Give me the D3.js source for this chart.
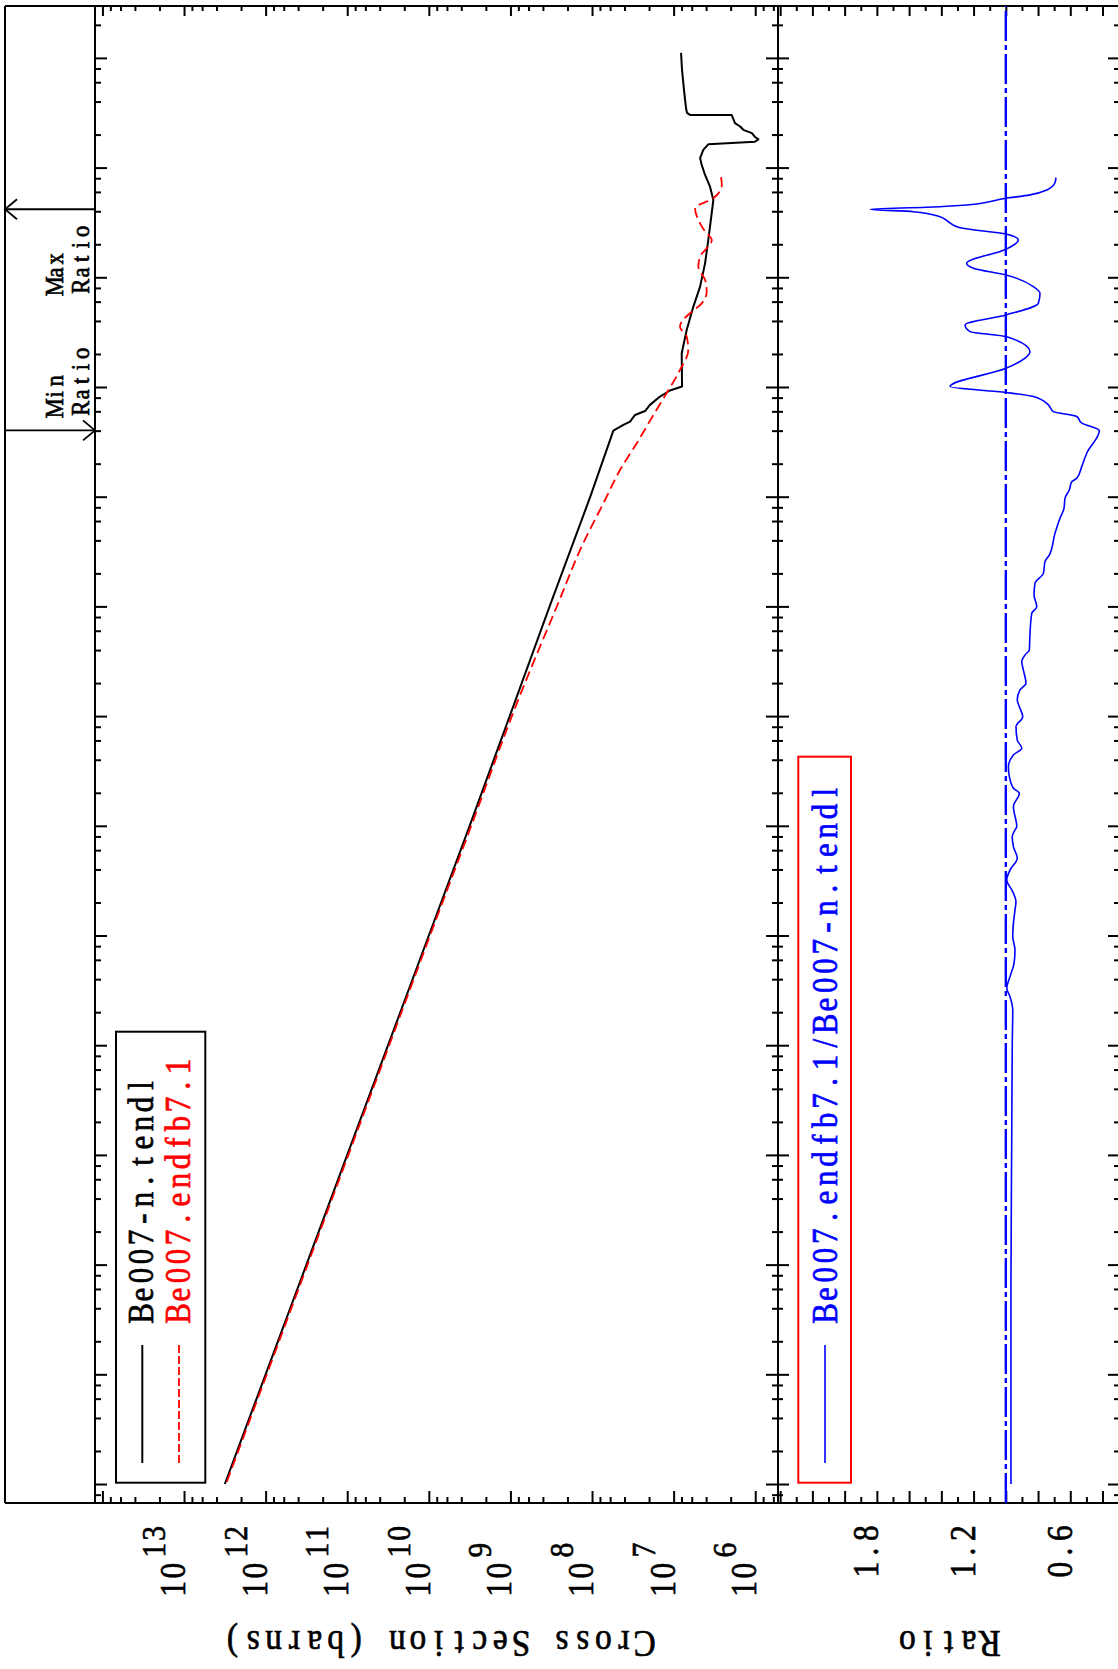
<!DOCTYPE html>
<html><head><meta charset="utf-8">
<script src="https://cdn.jsdelivr.net/npm/d3@7"></script>
<style>html,body{margin:0;padding:0;background:#fff;} svg{display:block;}</style>
</head><body>
<svg id="chart" width="1118" height="1669"></svg>
<script>
// ---------------- data (energy in eV, cross section in barns) ----------------
const tendlEnergy = [1.11e8, 7.76e7, 5.09e7, 3.49e7, 3.15e7, 3.02e7, 3.01e7, 2.54e7, 2.37e7, 2.21e7, 2.06e7, 1.91e7, 1.81e7, 1.72e7, 1.63e7, 1.45e7, 1.22e7, 1.06e7, 8.57e6, 6.70e6, 5.07e6, 3.21e6, 2.19e6, 1.34e6, 8.22e5, 5.41e5, 3.31e5, 2.03e5, 1.01e5, 9.29e4, 8.18e4, 6.87e4, 6.04e4, 5.56e4, 4.83e4, 4.51e4, 4.00e4, 1e4, 1e3, 100, 10, 1, 0.1, 0.01, 1e-3, 1e-4, 1e-5];
const tendlXS = [8.11e6, 7.89e6, 7.46e6, 7.05e6, 6.86e6, 6.30e6, 1.94e6, 1.77e6, 1.53e6, 1.40e6, 1.10e6, 1.01e6, 9.16e5, 1.01e6, 3.76e6, 4.33e6, 4.74e6, 4.53e6, 4.12e6, 3.58e6, 3.26e6, 3.52e6, 3.76e6, 4.12e6, 4.74e6, 5.73e6, 6.92e6, 7.96e6, 7.89e6, 1.11e7, 1.47e7, 1.95e7, 2.24e7, 2.97e7, 3.42e7, 4.13e7, 5.48e7, 1.05e8, 3.31e8, 1.02e9, 3.16e9, 1.0e10, 3.16e10, 1.0e11, 3.16e11, 1.0e12, 3.16e12];

const endfEnergy = [8.17e6, 6.93e6, 5.25e6, 4.26e6, 3.33e6, 2.61e6, 2.19e6, 1.54e6, 1.25e6, 9.44e5, 7.40e5, 5.79e5, 4.70e5, 3.94e5, 3.55e5, 2.88e5, 2.17e5, 1.43e5, 8.77e4, 5.56e4, 3.07e4, 1.75e4, 9.33e3, 3.27e3, 1.14e3, 140, 10, 1, 0.1, 0.01, 1e-3, 1e-4, 1e-5];
const endfXS = [2.62e6, 2.57e6, 3.26e6, 5.47e6, 4.98e6, 4.11e6, 3.41e6, 4.74e6, 4.98e6, 4.11e6, 3.93e6, 4.53e6, 6.30e6, 7.96e6, 8.36e6, 6.92e6, 6.61e6, 8.36e6, 1.22e7, 1.77e7, 2.83e7, 4.54e7, 6.93e7, 1.40e8, 2.51e8, 8.05e8, 3.02e9, 9.66e9, 3.06e10, 9.68e10, 3.06e11, 9.68e11, 3.06e12];

const ratioEnergy = [8.09e6, 7.28e6, 6.25e6, 5.64e6, 5.25e6, 4.56e6, 4.35e6, 4.17e6, 3.96e6, 3.56e6, 3.21e6, 2.83e6, 2.48e6, 2.19e6, 1.80e6, 1.34e6, 1.21e6, 1.05e6, 8.22e5, 7.14e5, 5.79e5, 4.54e5, 3.68e5, 3.20e5, 2.88e5, 2.10e5, 1.83e5, 1.48e5, 1.01e5, 8.91e4, 8.18e4, 6.87e4, 5.97e4, 5.38e4, 4.68e4, 4.02e4, 2.49e4, 1.88e4, 1.47e4, 1.37e4, 1.15e4, 9.66e3, 7.83e3, 6.35e3, 4.63e3, 2.94e3, 2.56e3, 2.00e3, 1.63e3, 1.27e3, 995, 865, 569, 401, 361, 313, 263, 199, 173, 140, 122, 98.9, 80.2, 60.5, 50.9, 44.3, 34.6, 28.1, 22.0, 19.8, 15.0, 9.84, 9.16, 7.96, 6.46, 5.06, 3.95, 3.21, 2.51, 2.04, 1.71, 1.29, 0.977, 0.738, 0.558, 0.422, 0.330, 0.277, 0.209, 0.104, 0.0169, 7.24e-4, 1e-5];
const ratioValue = [0.689, 0.695, 0.746, 0.850, 0.999, 1.243, 1.491, 1.842, 1.574, 1.408, 1.357, 1.284, 0.999, 0.922, 0.999, 1.243, 1.202, 0.999, 0.829, 0.788, 0.798, 0.999, 1.253, 1.222, 0.999, 0.850, 0.881, 0.999, 1.346, 0.999, 0.829, 0.736, 0.705, 0.560, 0.529, 0.420, 0.498, 0.529, 0.560, 0.591, 0.606, 0.633, 0.639, 0.664, 0.695, 0.730, 0.757, 0.767, 0.819, 0.825, 0.808, 0.839, 0.850, 0.854, 0.881, 0.901, 0.891, 0.875, 0.912, 0.929, 0.916, 0.895, 0.937, 0.929, 0.901, 0.953, 0.984, 0.978, 0.953, 0.916, 0.953, 0.932, 0.943, 0.960, 0.953, 0.929, 0.974, 0.994, 0.957, 0.937, 0.943, 0.953, 0.957, 0.943, 0.949, 0.974, 0.994, 0.974, 0.957, 0.960, 0.963, 0.968, 0.968];

const xsTickExponents = [13, 12, 11, 10, 9, 8, 7, 6];
const ratioTickLabels = [1.8, 1.2, 0.6];
const legendTopLabels = ["Be007-n.tendl", "Be007.endfb7.1"];
const legendRatioLabel = "Be007.endfb7.1/Be007-n.tendl";
const axisTitleXS = "Cross Section (barns)";
const axisTitleRatio = "Ratio";
const markerLabels = [["Max", "Ratio"], ["Min", "Ratio"]];

// ---------------- layout ----------------
const svg = d3.select("#chart");
const F = {left: 5, top: 6, bottom: 1503, xsLeft: 95, sep: 778, right: 1119};
const FONT = "'Liberation Serif', 'Times New Roman', 'DejaVu Serif', serif";
const K = 1.13; // vertical stretch of glyphs

const yE = d3.scaleLog().domain([Math.pow(10, -5.173), Math.pow(10, 8.473)]).range([F.bottom, F.top]);
const xS = d3.scaleLog().domain([Math.pow(10, 14.091), Math.pow(10, 5.721)]).range([F.xsLeft, F.sep]);
const xR = d3.scaleLinear().domain([2.4134, 0.2978]).range([F.sep, F.right]);

// tick values
const inDom = (s, v) => { const d = s.domain(); const lo = Math.min(d[0], d[1]), hi = Math.max(d[0], d[1]); return v >= lo && v <= hi; };
const eMajor = d3.range(-6, 10).map(k => Math.pow(10, k)).filter(v => inDom(yE, v));
const eMinor = [];
d3.range(-7, 10).forEach(k => [2, 4, 6, 8].forEach(m => { const v = m * Math.pow(10, k); if (inDom(yE, v)) eMinor.push(v); }));
const sMajor = d3.range(4, 16).map(k => Math.pow(10, k)).filter(v => inDom(xS, v));
const sMinor = [];
d3.range(4, 16).forEach(k => [2, 4, 6, 8].forEach(m => { const v = m * Math.pow(10, k); if (inDom(xS, v)) sMinor.push(v); }));
const rMajor = d3.range(2, 13).map(i => +(i * 0.2).toFixed(1)).filter(v => v > 0.31 && v < 2.412);
const rMinor = d3.range(2, 13).map(i => +(i * 0.2 + 0.1).toFixed(1)).filter(v => v > 0.31 && v < 2.412);

function drawAxis(gen, tx, ty, vals, size) {
  svg.append("g").attr("transform", `translate(${tx},${ty})`)
    .call(gen.tickValues(vals).tickSize(size).tickSizeOuter(0))
    .call(g => {
      g.select(".domain").remove();
      g.selectAll("text").remove();
      g.selectAll("line").attr("stroke", "#000").attr("stroke-width", 2);
    });
}
// energy axes (vertical lines)
drawAxis(d3.axisRight(yE), F.xsLeft, 0, eMajor, 12);
drawAxis(d3.axisRight(yE), F.xsLeft, 0, eMinor, 6);
drawAxis(d3.axisLeft(yE), F.sep, 0, eMajor, 12);
drawAxis(d3.axisLeft(yE), F.sep, 0, eMinor, 6);
drawAxis(d3.axisRight(yE), F.sep, 0, eMajor, 11);
drawAxis(d3.axisRight(yE), F.sep, 0, eMinor, 5);
drawAxis(d3.axisLeft(yE), F.right, 0, eMajor, 11);
drawAxis(d3.axisLeft(yE), F.right, 0, eMinor, 5);
// cross-section axes
drawAxis(d3.axisTop(xS), 0, F.bottom, sMajor, 12);
drawAxis(d3.axisTop(xS), 0, F.bottom, sMinor, 6);
drawAxis(d3.axisBottom(xS), 0, F.top, sMajor, 10);
drawAxis(d3.axisBottom(xS), 0, F.top, sMinor, 5);
// ratio axes
drawAxis(d3.axisTop(xR), 0, F.bottom, rMajor, 12);
drawAxis(d3.axisTop(xR), 0, F.bottom, rMinor, 6);
drawAxis(d3.axisBottom(xR), 0, F.top, rMajor, 10);
drawAxis(d3.axisBottom(xR), 0, F.top, rMinor, 5);

// frame lines
const frameLines = [
  [F.left, F.top, F.left, F.bottom],
  [F.left, F.top, F.right, F.top],
  [F.left, F.bottom, F.right, F.bottom],
  [F.xsLeft, F.top, F.xsLeft, F.bottom],
  [F.sep, F.top, F.sep, F.bottom]
];
svg.append("g").selectAll("line").data(frameLines).join("line")
  .attr("x1", d => d[0]).attr("y1", d => d[1]).attr("x2", d => d[2]).attr("y2", d => d[3])
  .attr("stroke", "#000").attr("stroke-width", 2);

// ---------------- curves ----------------
const tendl = tendlEnergy.map((e, i) => ({e, v: tendlXS[i]}));
const endf = endfEnergy.map((e, i) => ({e, v: endfXS[i]}));
const ratio = ratioEnergy.map((e, i) => ({e, v: ratioValue[i]}));

const xsLine = d3.line().x(d => xS(d.v)).y(d => yE(d.e));
const xsSmooth = d3.line().x(d => xS(d.v)).y(d => yE(d.e)).curve(d3.curveMonotoneY);
const rLine = d3.line().x(d => xR(d.v)).y(d => yE(d.e));
const rSmooth = d3.line().x(d => xR(d.v)).y(d => yE(d.e)).curve(d3.curveMonotoneY);

// ratio = 1 reference
svg.append("path").datum([{e: yE.domain()[0], v: 1}, {e: yE.domain()[1], v: 1}])
  .attr("d", rLine).attr("fill", "none").attr("stroke", "#0000ff").attr("stroke-width", 2.4)
  .attr("stroke-dasharray", "30,4,5,4");

svg.append("path").datum(tendl).attr("d", xsLine).attr("fill", "none")
  .attr("stroke", "#000").attr("stroke-width", 2).attr("stroke-linejoin", "round");
svg.append("path").datum(endf).attr("d", xsSmooth).attr("fill", "none")
  .attr("stroke", "#ff0000").attr("stroke-width", 1.8).attr("stroke-dasharray", "10,5");
svg.append("path").datum(ratio).attr("d", rSmooth).attr("fill", "none")
  .attr("stroke", "#0000ff").attr("stroke-width", 1.6).attr("stroke-linejoin", "round");

// ---------------- monospaced-cell text helper ----------------
// segments: [{s, size, cell, dy, gap}] ; each glyph centred in its own cell
function mtext(x, y, angle, segments, anchor, color, sw) {
  const total = segments.reduce((a, g) => a + (g.gap || 0) + g.s.length * g.cell, 0);
  let cx = anchor === "start" ? 0 : anchor === "end" ? -total : -total / 2;
  const t = svg.append("text")
    .attr("transform", `translate(${x},${y}) rotate(${angle}) scale(1,${K})`)
    .attr("font-family", FONT).attr("fill", color)
    .attr("stroke", color).attr("stroke-width", sw === undefined ? 0.6 : sw)
    .attr("text-anchor", "middle");
  segments.forEach(g => {
    cx += g.gap || 0;
    const xs = Array.from(g.s).map((c, i) => (cx + (i + 0.5) * g.cell).toFixed(2));
    t.append("tspan").attr("x", xs.join(" ")).attr("y", (g.dy || 0)).attr("font-size", g.size).text(g.s);
    cx += g.s.length * g.cell;
  });
  return t;
}

// cross-section tick labels 10^n
xsTickExponents.forEach(n => {
  mtext(xS(Math.pow(10, n)) + 1, 1598, -90, [
    {s: "10", size: 31.5, cell: 18.3},
    {s: String(n), size: 29.5, cell: 16.7, dy: -20 / K, gap: 3}
  ], "start", "#000");
});
// ratio tick labels
ratioTickLabels.forEach(v => mtext(xR(v) + 1.5, 1524, -90, [{s: v.toFixed(1), size: 31.5, cell: 18.3}], "end", "#000"));

// axis titles (upside down)
mtext((F.xsLeft + F.sep) / 2 + 2, 1631, 180, [{s: axisTitleXS, size: 33.5, cell: 20.6}], "middle", "#000");
mtext((F.sep + F.right) / 2, 1631, 180, [{s: axisTitleRatio, size: 33.5, cell: 20.6}], "middle", "#000");

// ---------------- legends ----------------
svg.append("rect").attr("x", 116).attr("y", 1031.7).attr("width", 89.3).attr("height", 451)
  .attr("fill", "none").attr("stroke", "#000").attr("stroke-width", 2);
svg.append("line").attr("x1", 142.3).attr("x2", 142.3).attr("y1", 1463).attr("y2", 1345)
  .attr("stroke", "#000").attr("stroke-width", 2);
svg.append("line").attr("x1", 179).attr("x2", 179).attr("y1", 1463).attr("y2", 1345)
  .attr("stroke", "#ff0000").attr("stroke-width", 1.8).attr("stroke-dasharray", "8,3");
mtext(153.3, 1323, -90, [{s: legendTopLabels[0], size: 31, cell: 19}], "start", "#000");
mtext(190, 1323, -90, [{s: legendTopLabels[1], size: 31, cell: 19}], "start", "#ff0000");

svg.append("rect").attr("x", 798.3).attr("y", 756.7).attr("width", 52.7).attr("height", 726)
  .attr("fill", "none").attr("stroke", "#ff0000").attr("stroke-width", 2);
svg.append("line").attr("x1", 825).attr("x2", 825).attr("y1", 1463).attr("y2", 1345)
  .attr("stroke", "#0000ff").attr("stroke-width", 1.6);
mtext(836.7, 1323, -90, [{s: legendRatioLabel, size: 31, cell: 19.3}], "start", "#0000ff");

// ---------------- min / max ratio markers ----------------
const iMax = d3.maxIndex(ratioValue), iMin = d3.minIndex(ratioValue);
const yMax = yE(ratioEnergy[iMax]), yMin = yE(ratioEnergy[iMin]);
const mk = svg.append("g").attr("stroke", "#000").attr("stroke-width", 1.8).attr("fill", "none");
mk.append("line").attr("x1", F.xsLeft).attr("x2", F.left).attr("y1", yMax).attr("y2", yMax);
mk.append("path").attr("d", `M${F.left + 12},${yMax - 10} L${F.left},${yMax} L${F.left + 12},${yMax + 10}`);
mk.append("line").attr("x1", F.left).attr("x2", F.xsLeft).attr("y1", yMin).attr("y2", yMin);
mk.append("path").attr("d", `M${F.xsLeft - 12},${yMin - 10} L${F.xsLeft},${yMin} L${F.xsLeft - 12},${yMin + 10}`);

const mSeg = s => [{s, size: 22.5, cell: 13.7}];
mtext(63.3, 293, -90, mSeg(markerLabels[0][0]), "start", "#000", 0.6);
mtext(89.3, 293, -90, mSeg(markerLabels[0][1]), "start", "#000", 0.6);
mtext(63.3, 415, -90, mSeg(markerLabels[1][0]), "start", "#000", 0.6);
mtext(89.3, 415, -90, mSeg(markerLabels[1][1]), "start", "#000", 0.6);
</script>
</body></html>
